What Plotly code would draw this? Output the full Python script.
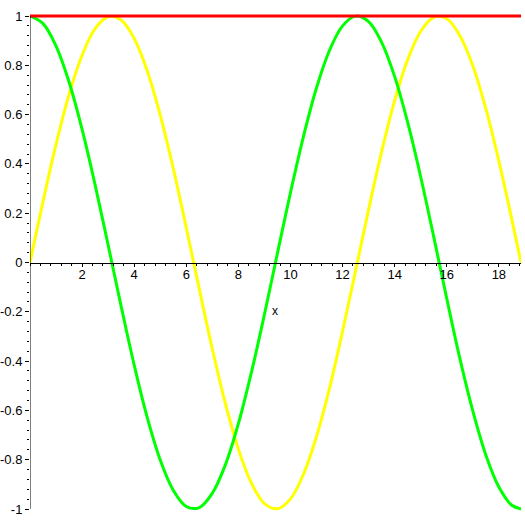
import plotly.graph_objects as go

x_vals = [0, 0.5, 1, 1.5, 2, 2.5, 3, 3.5, 4, 4.5, 5, 5.5, 6, 6.5, 7, 7.5, 8, 8.5, 9, 9.5,
          10, 10.5, 11, 11.5, 12, 12.5, 13, 13.5, 14, 14.5, 15, 15.5, 16, 16.5, 17, 17.5,
          18, 18.5, 18.85]
yellow_vals = [0, 0.247, 0.479, 0.682, 0.841, 0.949, 0.997, 0.984, 0.909, 0.778, 0.598,
               0.382, 0.141, -0.108, -0.351, -0.572, -0.757, -0.895, -0.978, -0.999,
               -0.959, -0.859, -0.706, -0.510, -0.279, -0.033, 0.215, 0.450, 0.657, 0.823,
               0.938, 0.995, 0.989, 0.921, 0.798, 0.624, 0.412, 0.174, 0.0]
green_vals = [1, 0.969, 0.878, 0.732, 0.540, 0.315, 0.071, -0.178, -0.416, -0.628, -0.801,
              -0.924, -0.990, -0.994, -0.936, -0.821, -0.654, -0.446, -0.211, 0.038,
              0.284, 0.512, 0.709, 0.861, 0.960, 0.9995, 0.977, 0.893, 0.754, 0.568,
              0.347, 0.104, -0.146, -0.388, -0.602, -0.781, -0.911, -0.985, -1.0]
red_vals = [1] * len(x_vals)

x_ticks = [2, 4, 6, 8, 10, 12, 14, 16, 18]
x_tick_text = ["2", "4", "6", "8", "10", "12", "14", "16", "18"]
y_ticks = [-1, -0.8, -0.6, -0.4, -0.2, 0, 0.2, 0.4, 0.6, 0.8, 1]
y_tick_text = ["-1", "-0.8", "-0.6", "-0.4", "-0.2", "0", "0.2", "0.4", "0.6", "0.8", "1"]

fig = go.Figure()
fig.add_trace(go.Scatter(x=x_vals, y=yellow_vals, mode="lines",
                         line=dict(color="#FFFF00", width=3, shape="spline")))
fig.add_trace(go.Scatter(x=x_vals, y=green_vals, mode="lines",
                         line=dict(color="#00FF00", width=3, shape="spline")))
fig.add_trace(go.Scatter(x=x_vals, y=red_vals, mode="lines",
                         line=dict(color="#FF0000", width=3)))

font = dict(family="Liberation Sans, Arial, sans-serif", size=13, color="black")

fig.update_layout(
    width=525, height=525,
    margin=dict(l=30, r=4, t=11, b=11),
    paper_bgcolor="white", plot_bgcolor="white",
    showlegend=False,
    font=font,
    xaxis=dict(range=[0, 18.85], showgrid=False, zeroline=False, automargin=False,
               showline=True, linecolor="black", linewidth=1,
               anchor="free", position=0.5, side="bottom",
               ticks="outside", ticklen=3, tickcolor="black", tickwidth=1,
               ticklabelstandoff=-3,
               tickvals=x_ticks, ticktext=x_tick_text, tickfont=font,
               minor=dict(ticks="outside", ticklen=2, dtick=0.4, tick0=0,
                          tickcolor="black", showgrid=False)),
    yaxis=dict(range=[-1.0203, 1.0203], showgrid=False, zeroline=False, automargin=False,
               showline=False,
               ticks="outside", ticklen=4, tickcolor="black", tickwidth=1,
               tickvals=y_ticks, ticktext=y_tick_text, tickfont=font,
               minor=dict(ticks="outside", ticklen=2, dtick=0.04, tick0=0,
                          tickcolor="black", showgrid=False)),
    shapes=[dict(type="line", xref="x", yref="y", x0=0, x1=0, y0=-1, y1=1,
                 line=dict(color="black", width=1))],
    annotations=[dict(text="x", xref="paper", yref="y", x=0.499, y=-0.197,
                      showarrow=False, font=dict(family="Liberation Sans, Arial, sans-serif",
                                                 size=12, color="black"))],
)

fig.write_html("out.html", config={"displayModeBar": False},
               post_script="document.body.style.margin='0';document.body.style.overflow='hidden';")
